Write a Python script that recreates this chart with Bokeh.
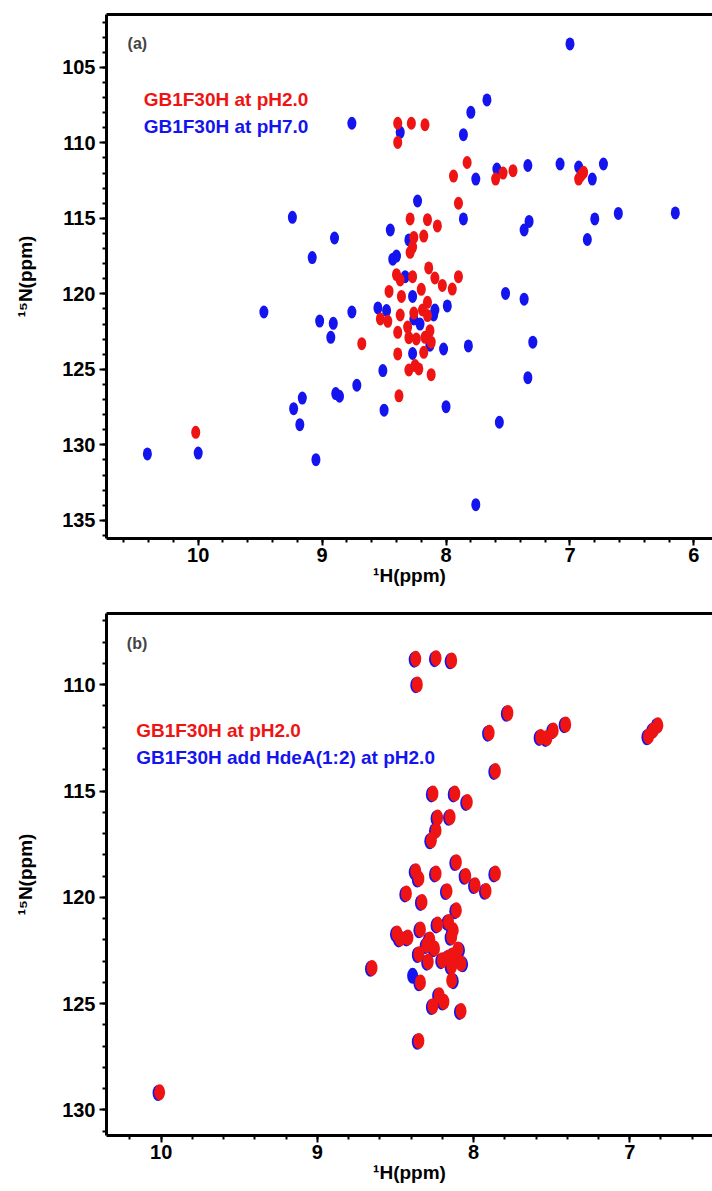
from bokeh.plotting import figure
from bokeh.models import Range1d, SingleIntervalTicker, LinearAxis, FixedTicker, Label, ColumnDataSource
from bokeh.layouts import column
from bokeh.embed import file_html
from bokeh.resources import INLINE

# ---------------- data: panel (a) ----------------
a_red_H = [8.39, 8.28, 8.17, 8.39, 7.83, 7.94, 7.60, 7.54, 7.46, 6.93, 6.89, 6.91,
           7.90, 8.29, 8.15, 8.07, 8.26, 8.18, 8.27, 8.29, 8.14, 8.40, 8.37, 8.27,
           8.09, 7.90, 8.03, 7.95, 8.20, 8.46, 8.36, 8.15, 8.53, 8.47, 8.37, 8.26,
           8.19, 8.15, 8.39, 8.31, 8.30, 8.24, 8.17, 8.13, 8.12, 8.68, 8.39, 8.18,
           8.30, 8.25, 8.22, 8.12, 8.38, 10.02]
a_red_N = [108.7, 108.7, 108.8, 109.97, 111.3, 112.2, 112.4, 112.0, 111.84, 112.4, 111.95, 112.15,
           114.0, 115.04, 115.09, 115.5, 116.26, 116.17, 116.9, 117.25, 118.28, 118.73, 119.08, 118.86,
           118.95, 118.86, 119.44, 119.68, 119.7, 119.84, 120.17, 120.56, 121.66, 121.82, 121.4, 121.27,
           121.07, 121.44, 122.55, 122.2, 122.9, 122.99, 122.88, 122.44, 123.2, 123.3, 123.98, 123.87,
           125.04, 124.75, 124.97, 125.35, 126.75, 129.17]

a_blue_H = [7.00, 7.67, 7.80, 8.76, 8.37, 7.86, 7.59, 7.34, 7.08, 6.93, 6.73, 7.76,
            6.82, 8.23, 9.24, 7.86, 7.33, 7.37, 6.80, 6.61, 6.15, 8.90, 6.86, 8.45,
            8.30, 9.08, 8.43, 8.40, 8.33, 8.27, 7.52, 7.37, 9.47, 9.02, 8.91, 8.76,
            8.55, 8.48, 8.93, 7.99, 8.09, 8.10, 8.26, 8.21, 7.30, 7.82, 8.02, 8.27,
            8.13, 8.51, 7.34, 8.72, 8.89, 8.86, 9.16, 9.23, 9.18, 8.50, 8.00, 7.57,
            10.41, 10.00, 9.05, 7.76]
a_blue_N = [103.45, 107.16, 107.98, 108.7, 109.3, 109.46, 111.73, 111.5, 111.4, 111.6, 111.4, 112.4,
            112.4, 113.85, 114.93, 115.04, 115.2, 115.77, 115.04, 114.67, 114.64, 116.3, 116.4, 115.77,
            116.43, 117.6, 117.7, 117.5, 118.86, 120.17, 119.97, 120.35, 121.2, 121.8, 121.95, 121.2,
            120.93, 121.1, 122.88, 120.8, 121.07, 121.4, 121.66, 122.0, 123.2, 123.45, 123.65, 123.95,
            123.4, 125.08, 125.55, 126.05, 126.6, 126.78, 126.9, 127.6, 128.66, 127.7, 127.47, 128.5,
            130.6, 130.54, 130.98, 133.96]

# ---------------- data: panel (b) ----------------
b_red_H = [8.37, 8.24, 8.14, 8.36, 7.78, 7.90, 7.57, 7.53, 7.49, 7.41, 6.88, 6.85,
           6.82, 7.86, 8.26, 8.12, 8.04, 8.23, 8.15, 8.24, 8.27, 8.11, 8.37, 8.35,
           8.24, 8.05, 7.86, 7.99, 7.92, 8.43, 8.17, 8.33, 8.11, 8.23, 8.16, 8.34,
           8.49, 8.47, 8.42, 8.13, 8.14, 8.28, 8.30, 8.25, 8.35, 8.10, 8.29, 8.20,
           8.16, 8.14, 8.08, 8.13, 8.65, 8.34, 8.14, 8.26, 8.22, 8.19, 8.08, 8.35,
           10.01]
b_red_N = [108.78, 108.75, 108.86, 109.99, 111.33, 112.26, 112.46, 112.51, 112.15, 111.87, 112.43, 112.15,
           111.91, 114.06, 115.12, 115.12, 115.52, 116.25, 116.22, 116.85, 117.32, 118.35, 118.77, 119.12,
           118.88, 118.99, 118.88, 119.43, 119.70, 119.82, 119.71, 120.22, 120.61, 121.28, 121.16, 121.51,
           121.70, 121.94, 121.89, 121.55, 121.86, 121.98, 122.25, 122.40, 122.67, 122.45, 123.03, 122.96,
           122.83, 123.24, 123.11, 122.72, 123.32, 124.00, 123.90, 125.12, 124.60, 124.91, 125.35, 126.75,
           129.17]

b_blue_H = [8.38, 8.25, 8.15, 8.37, 7.79, 7.91, 7.58, 7.54, 7.50, 7.42, 6.89, 6.86,
            6.83, 7.87, 8.27, 8.13, 8.05, 8.24, 8.16, 8.25, 8.28, 8.12, 8.38, 8.36,
            8.25, 8.06, 7.87, 8.00, 7.93, 8.44, 8.18, 8.34, 8.12, 8.24, 8.17, 8.35,
            8.50, 8.48, 8.43, 8.14, 8.15, 8.29, 8.31, 8.26, 8.36, 8.09, 8.30, 8.21,
            8.17, 8.15, 8.07, 8.14, 8.66, 8.35, 8.13, 8.27, 8.23, 8.20, 8.09, 8.36,
            10.02, 8.39]
b_blue_N = [108.82, 108.80, 108.90, 110.02, 111.37, 112.30, 112.50, 112.55, 112.19, 111.90, 112.47, 112.19,
            111.95, 114.10, 115.16, 115.16, 115.56, 116.29, 116.26, 116.89, 117.36, 118.39, 118.81, 119.16,
            118.92, 119.03, 118.92, 119.47, 119.74, 119.86, 119.75, 120.26, 120.65, 121.32, 121.20, 121.55,
            121.74, 121.98, 121.93, 121.59, 121.90, 122.02, 122.29, 122.44, 122.71, 122.49, 123.07, 123.00,
            122.87, 123.28, 123.15, 122.76, 123.36, 124.04, 123.94, 125.16, 124.64, 124.95, 125.39, 126.79,
            129.20, 123.69]

legend_a = ["GB1F30H at pH2.0", "GB1F30H at pH7.0"]
legend_b = ["GB1F30H at pH2.0", "GB1F30H add HdeA(1:2) at pH2.0"]
x_label = "\u00b9H(ppm)"
y_label = "\u00b9\u2075N(ppm)"

FONT = "Liberation Sans"
RED = "#ee1414"
BLUE = "#1414ee"


def make_panel(height, xr, yr, top, bottom):
    p = figure(width=712, height=height, x_range=Range1d(*xr), y_range=Range1d(*yr),
               output_backend="svg", toolbar_location=None,
               min_border_left=106, min_border_right=0,
               min_border_top=top, min_border_bottom=bottom)
    p.grid.visible = False
    p.outline_line_color = None
    p.background_fill_color = "white"
    p.border_fill_color = "white"

    xa = p.xaxis[0]
    xa.ticker = SingleIntervalTicker(interval=1, num_minor_ticks=5)
    ya = p.yaxis[0]
    ya.ticker = SingleIntervalTicker(interval=5, num_minor_ticks=5)
    for ax in (xa, ya):
        ax.axis_line_width = 3
        ax.axis_line_color = "black"
        ax.major_tick_in = 0
        ax.major_tick_out = 7
        ax.minor_tick_in = 0
        ax.minor_tick_out = 4
        ax.major_tick_line_width = 2
        ax.minor_tick_line_width = 2
        ax.major_tick_line_color = "black"
        ax.minor_tick_line_color = "black"
        ax.major_label_text_font = FONT
        ax.major_label_text_font_style = "bold"
        ax.major_label_text_font_size = "20px"
        ax.major_label_text_color = "black"
        ax.axis_label_text_font = FONT
        ax.axis_label_text_font_style = "bold"
        ax.axis_label_text_font_size = "19px"
        ax.axis_label_text_color = "black"
    xa.axis_label = x_label
    xa.major_label_standoff = 2
    xa.axis_label_standoff = 0
    ya.axis_label = y_label
    ya.major_label_standoff = 4
    ya.axis_label_standoff = 23

    topax = LinearAxis(ticker=FixedTicker(ticks=[], minor_ticks=[]), axis_line_width=3,
                       major_tick_out=0, major_tick_in=0, minor_tick_out=0, minor_tick_in=0,
                       major_label_text_font_size="0px", major_label_standoff=0)
    p.add_layout(topax, "above")
    return p


# ---------------- panel (a) ----------------
pa = make_panel(590, (10.74, 5.85), (136.2, 101.5), 14, 52)
pa.ellipse(x="H", y="N", source=ColumnDataSource(dict(H=a_blue_H, N=a_blue_N)),
           width=9, height=13, width_units="screen", height_units="screen",
           fill_color=BLUE, line_color=None)
pa.ellipse(x="H", y="N", source=ColumnDataSource(dict(H=a_red_H, N=a_red_N)),
           width=9, height=13, width_units="screen", height_units="screen",
           fill_color=RED, line_color=None)
pa.add_layout(Label(x=10.57, y=103.43, text="(a)", text_font=FONT, text_font_style="bold",
                    text_font_size="16px", text_baseline="middle", text_align="left"))
pa.add_layout(Label(x=10.44, y=107.14, text=legend_a[0], text_font=FONT, text_font_style="bold",
                    text_font_size="19px", text_color=RED, text_baseline="middle", text_align="left"))
pa.add_layout(Label(x=10.44, y=108.9, text=legend_a[1], text_font=FONT, text_font_style="bold",
                    text_font_size="19px", text_color=BLUE, text_baseline="middle", text_align="left"))

# ---------------- panel (b) ----------------
pb = make_panel(601, (10.35, 6.47), (131.2, 106.65), 23, 56)
pb.ellipse(x="H", y="N", source=ColumnDataSource(dict(H=b_blue_H, N=b_blue_N)),
           width=11, height=16, width_units="screen", height_units="screen",
           fill_color=BLUE, line_color=None)
pb.ellipse(x="H", y="N", source=ColumnDataSource(dict(H=b_red_H, N=b_red_N)),
           width=11, height=16, width_units="screen", height_units="screen",
           fill_color=RED, line_color=None)
pb.add_layout(Label(x=10.22, y=108.07, text="(b)", text_font=FONT, text_font_style="bold",
                    text_font_size="16px", text_baseline="middle", text_align="left"))
pb.add_layout(Label(x=10.16, y=112.15, text=legend_b[0], text_font=FONT, text_font_style="bold",
                    text_font_size="19px", text_color=RED, text_baseline="middle", text_align="left"))
pb.add_layout(Label(x=10.16, y=113.4, text=legend_b[1], text_font=FONT, text_font_style="bold",
                    text_font_size="19px", text_color=BLUE, text_baseline="middle", text_align="left"))

layout = column(pa, pb, spacing=0)
open("out.html", "w").write(file_html(layout, INLINE))
